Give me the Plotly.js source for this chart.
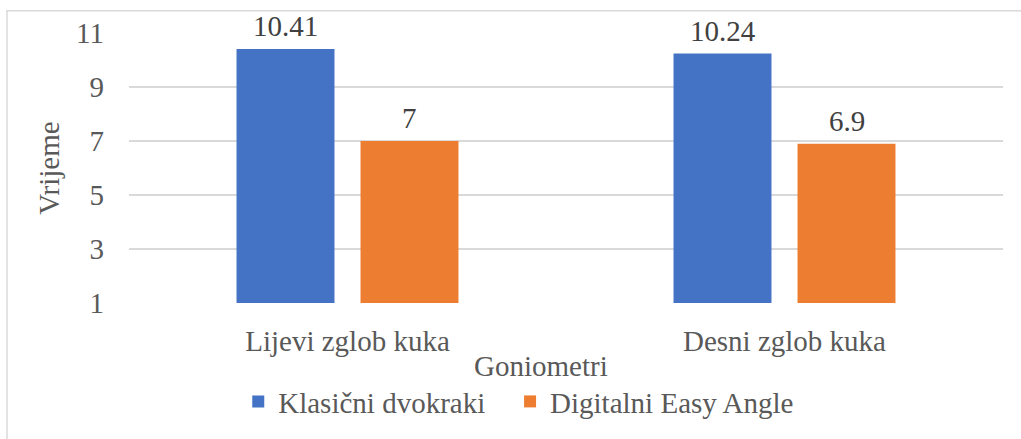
<!DOCTYPE html>
<html>
<head>
<meta charset="utf-8">
<script src="https://cdn.plot.ly/plotly-3.0.1.min.js"></script>
<style>html,body{margin:0;padding:0;background:#fff;}#chart{width:1021px;height:439px;}</style>
</head>
<body>
<div id="chart"></div>
<script>
var categories = ["Lijevi zglob kuka", "Desni zglob kuka"];
var seriesNames = ["Klasični dvokraki", "Digitalni Easy Angle"];
var klasicni = [10.41, 10.24];
var digitalni = [7, 6.9];
var yTicks = [1, 3, 5, 7, 9, 11];

var FONT = "Liberation Serif, Times New Roman, serif";
var FS = 29;
var TEXT = "#595959";
var LABEL = "#404040";

var traces = [
  {type: "bar", name: seriesNames[0], x: categories, y: klasicni, legend: "legend",
   marker: {color: "#4472C4"}, hoverinfo: "none"},
  {type: "bar", name: seriesNames[1], x: categories, y: digitalni, legend: "legend2",
   marker: {color: "#ED7D31"}, hoverinfo: "none"}
];

function labels(values, shift) {
  return values.map(function (v, i) {
    return {text: String(v), x: categories[i], y: v, xref: "x", yref: "y",
            xshift: shift, yshift: 5, xanchor: "center", yanchor: "bottom",
            showarrow: false, font: {family: FONT, size: FS, color: LABEL}};
  });
}

var annotations = labels(klasicni, -62).concat(labels(digitalni, 62));
annotations.push({text: "Goniometri", xref: "paper", yref: "paper", x: 0.471, y: -0.232,
  xanchor: "center", yanchor: "middle", showarrow: false,
  font: {family: FONT, size: FS, color: TEXT}});

function legendCfg(x) {
  return {orientation: "h", x: x, xanchor: "left", y: -0.365, yanchor: "middle",
          font: {family: FONT, size: FS, color: TEXT}, itemwidth: 30,
          bgcolor: "rgba(0,0,0,0)"};
}

var layout = {
  width: 1021, height: 439,
  margin: {l: 129, r: 18, t: 33, b: 128},
  paper_bgcolor: "#ffffff", plot_bgcolor: "#ffffff",
  font: {family: FONT, size: FS, color: TEXT},
  barmode: "group", bargap: 0.4325, bargroupgap: 0.21,
  showlegend: true,
  legend: legendCfg(0.125),
  legend2: legendCfg(0.436),
  xaxis: {type: "category", showgrid: false, zeroline: false, showline: false, ticks: "",
          tickfont: {family: FONT, size: FS, color: TEXT}, ticklabelstandoff: 18, fixedrange: true},
  yaxis: {range: [1, 11], tickvals: yTicks, ticktext: yTicks.map(String), showgrid: true,
          gridcolor: "#D9D9D9", gridwidth: 1.3, zeroline: false, showline: false, ticks: "",
          ticklabelstandoff: 24, tickfont: {family: FONT, size: FS, color: TEXT},
          title: {text: "Vrijeme", font: {family: FONT, size: FS, color: TEXT}, standoff: 7},
          fixedrange: true},
  annotations: annotations,
  shapes: [
    {type: "rect", xref: "paper", yref: "paper", x0: -0.1396, x1: 1.05, y0: -0.6, y1: 1.0827,
     line: {color: "#D9D9D9", width: 1.5}, fillcolor: "rgba(0,0,0,0)", layer: "below"}
  ]
};

Plotly.newPlot("chart", traces, layout, {displayModeBar: false, staticPlot: true});
</script>
</body>
</html>
